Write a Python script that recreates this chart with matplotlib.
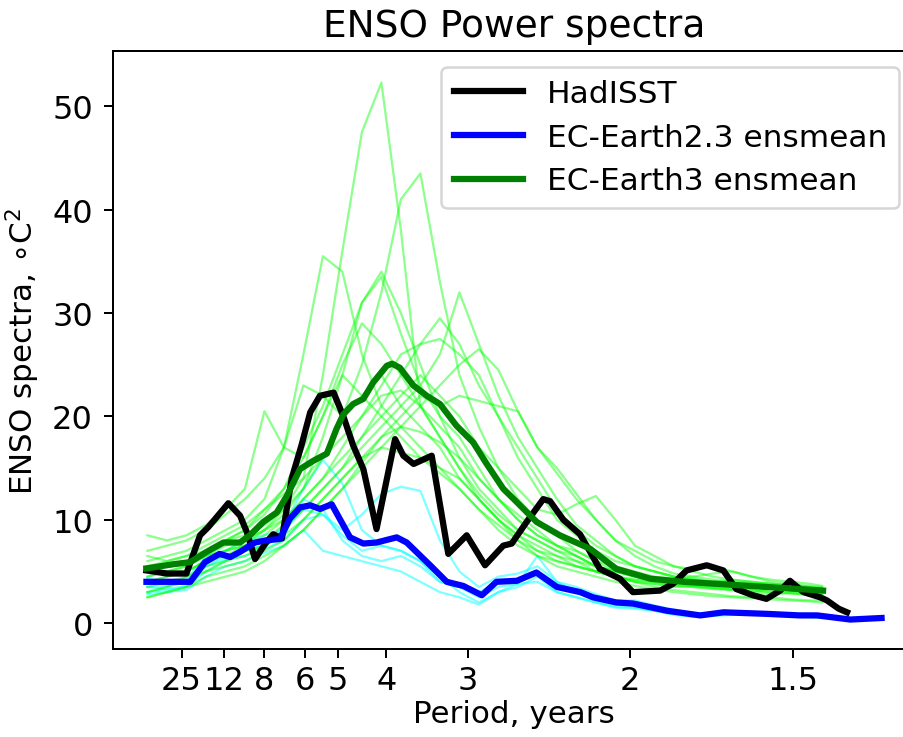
import matplotlib
matplotlib.use("Agg")
import matplotlib.pyplot as plt
import numpy as np

# ---------------- data (frequency in cycles/year) ----------------
period_ticks = [25, 12, 8, 6, 5, 4, 3, 2, 1.5]
period_tick_labels = ["25", "12", "8", "6", "5", "4", "3", "2", "1.5"]

hadisst_freq = [0.004, 0.025, 0.045, 0.059, 0.0675, 0.088, 0.100, 0.107, 0.1154, 0.126,
                0.134, 0.143, 0.153, 0.163, 0.172, 0.182, 0.196, 0.206, 0.216, 0.2265,
                0.240, 0.259, 0.2675, 0.278, 0.2966, 0.3136, 0.3325, 0.3513, 0.370, 0.3787,
                0.394, 0.411, 0.418, 0.4316, 0.4487, 0.459, 0.469, 0.4897, 0.503, 0.531,
                0.544, 0.558, 0.5787, 0.5957, 0.609, 0.626, 0.640, 0.654, 0.664, 0.678,
                0.695, 0.702, 0.714, 0.7226]
hadisst_spec = [5.1, 4.8, 4.8, 8.5, 9.3, 11.6, 10.4, 8.8, 6.2, 7.7,
                8.6, 8.2, 14.0, 17.2, 20.4, 22.0, 22.3, 20.0, 17.2, 14.9,
                9.1, 17.8, 16.2, 15.4, 16.2, 6.7, 8.5, 5.6, 7.5, 7.7,
                9.8, 12.0, 11.8, 10.0, 8.6, 6.9, 5.25, 4.3, 3.0, 3.15,
                3.8, 5.1, 5.6, 5.1, 3.3, 2.7, 2.35, 3.15, 4.1, 3.0,
                2.5, 2.2, 1.4, 1.05]

ec23_freq = [0.004, 0.049, 0.064, 0.079, 0.090, 0.100, 0.1154, 0.126, 0.141, 0.151,
             0.1615, 0.172, 0.182, 0.194, 0.2128, 0.2265, 0.240, 0.2607, 0.271, 0.295,
             0.312, 0.329, 0.348, 0.363, 0.384, 0.404, 0.425, 0.449, 0.462, 0.486,
             0.503, 0.538, 0.572, 0.596, 0.640, 0.674, 0.692, 0.726, 0.758]
ec23_mean = [4.0, 4.0, 5.9, 6.7, 6.4, 6.9, 7.8, 8.0, 8.15, 10.1,
             11.2, 11.4, 11.05, 11.5, 8.3, 7.7, 7.8, 8.3, 7.8, 5.6,
             4.0, 3.6, 2.7, 4.0, 4.1, 4.9, 3.5, 3.0, 2.5, 2.0,
             1.9, 1.2, 0.75, 1.05, 0.9, 0.75, 0.75, 0.35, 0.5]

ec3_freq = [0.004, 0.0316, 0.0487, 0.0658, 0.083, 0.100, 0.110, 0.124, 0.1376, 0.148,
            0.1615, 0.175, 0.189, 0.199, 0.206, 0.216, 0.2265, 0.2367, 0.2505, 0.256,
            0.264, 0.2777, 0.2915, 0.305, 0.322, 0.339, 0.353, 0.370, 0.384, 0.404,
            0.428, 0.459, 0.486, 0.521, 0.555, 0.623, 0.698]
ec3_mean = [5.3, 5.7, 5.9, 6.9, 7.8, 7.8, 8.5, 9.8, 10.7, 12.3,
            14.9, 15.7, 16.4, 18.8, 20.2, 21.2, 21.7, 23.3, 24.9, 25.1,
            24.7, 23.0, 22.0, 21.2, 19.1, 17.5, 15.4, 13.0, 11.7, 9.8,
            8.5, 7.2, 5.25, 4.3, 4.0, 3.6, 3.15]

# EC-Earth3 members
ec3_member_freq = [0.005, 0.025, 0.045, 0.065, 0.085, 0.105, 0.125, 0.145, 0.165, 0.185,
                   0.205, 0.225, 0.245, 0.265, 0.285, 0.305, 0.325, 0.345, 0.365, 0.385,
                   0.405, 0.425, 0.445, 0.465, 0.485, 0.505, 0.525, 0.545, 0.565, 0.585,
                   0.605, 0.625, 0.645, 0.665, 0.685, 0.697]
ec3_m01 = [4.5, 5.0, 5.5, 6.5, 7.0, 7.5, 9.0, 11.0, 14.0, 24.0, 36.0, 47.5, 52.3, 38.0, 21.0, 18.0, 15.0, 12.0, 10.0, 8.5, 7.0, 6.0, 5.5, 5.0, 4.5, 4.0, 3.8, 3.5, 3.6, 3.4, 3.2, 3.0, 3.3, 3.1, 2.9, 2.8]
ec3_m02 = [5.0, 5.5, 6.0, 7.0, 8.0, 8.5, 9.5, 11.0, 13.0, 16.0, 20.0, 25.0, 32.0, 41.0, 43.5, 33.0, 24.0, 19.0, 15.0, 12.0, 10.0, 8.5, 7.0, 6.0, 5.0, 4.5, 4.2, 4.0, 3.8, 3.6, 3.5, 3.6, 3.4, 3.3, 3.2, 3.0]
ec3_m03 = [6.0, 6.5, 7.0, 8.0, 9.0, 10.0, 12.0, 17.0, 26.0, 35.5, 34.0, 26.0, 21.0, 19.0, 17.0, 15.0, 13.0, 11.0, 9.5, 8.0, 7.0, 6.5, 5.5, 5.0, 4.5, 4.0, 3.8, 3.6, 3.5, 3.3, 3.2, 3.0, 2.8, 2.9, 2.7, 2.6]
ec3_m04 = [4.0, 4.5, 5.0, 6.0, 7.0, 7.5, 8.0, 9.5, 11.0, 13.0, 15.0, 17.0, 19.0, 21.0, 23.0, 26.0, 32.0, 27.0, 22.0, 18.0, 15.0, 12.0, 9.5, 8.0, 6.5, 5.5, 5.0, 4.5, 4.2, 4.0, 3.8, 3.5, 3.4, 3.3, 3.2, 3.1]
ec3_m05 = [5.5, 6.0, 6.5, 7.0, 8.0, 9.0, 10.5, 13.0, 17.0, 21.0, 26.0, 31.0, 34.0, 30.0, 25.0, 20.0, 16.0, 13.0, 11.0, 9.0, 8.0, 7.0, 6.5, 5.5, 5.0, 4.5, 4.2, 4.0, 3.9, 3.7, 3.6, 3.5, 3.3, 3.2, 3.0, 3.0]
ec3_m06 = [8.5, 8.0, 8.5, 9.5, 11.0, 13.0, 20.5, 17.0, 23.0, 22.0, 20.0, 22.0, 24.0, 21.0, 19.0, 17.0, 14.0, 12.0, 10.0, 8.5, 7.5, 6.5, 6.0, 5.0, 4.5, 4.2, 4.0, 3.8, 4.0, 3.8, 3.6, 3.4, 3.5, 3.2, 3.0, 2.9]
ec3_m07 = [3.0, 3.5, 4.5, 5.5, 6.0, 7.0, 7.5, 9.0, 11.0, 13.0, 15.0, 18.0, 21.0, 24.0, 27.0, 27.5, 26.0, 24.0, 20.0, 17.0, 14.0, 11.0, 9.0, 7.5, 6.5, 5.5, 5.0, 4.5, 4.3, 4.0, 3.9, 3.8, 3.6, 3.5, 3.4, 3.3]
ec3_m08 = [2.5, 3.0, 3.5, 4.5, 5.0, 5.5, 6.5, 7.5, 9.0, 11.0, 13.0, 15.0, 17.0, 19.0, 21.0, 23.0, 25.0, 26.5, 24.5, 20.5, 17.0, 14.5, 12.0, 10.0, 8.0, 6.5, 5.5, 4.8, 4.5, 4.2, 4.0, 3.9, 3.8, 3.6, 3.5, 3.4]
ec3_m09 = [4.0, 4.5, 5.0, 6.0, 6.5, 7.5, 8.5, 10.0, 12.0, 14.0, 16.0, 18.0, 20.0, 22.0, 24.0, 22.0, 20.0, 17.0, 15.0, 13.0, 11.0, 10.5, 11.5, 12.3, 10.0, 7.5, 6.5, 5.5, 5.0, 4.5, 4.2, 4.0, 3.8, 3.6, 3.4, 3.3]
ec3_m10 = [5.0, 5.5, 6.0, 7.0, 8.0, 9.0, 11.0, 13.0, 16.0, 20.0, 25.0, 29.0, 27.0, 24.0, 21.0, 18.0, 15.0, 12.5, 10.5, 9.0, 8.0, 7.0, 6.0, 5.5, 5.0, 4.5, 4.0, 3.7, 3.5, 3.4, 3.3, 3.2, 3.0, 2.9, 2.8, 2.7]
ec3_m11 = [6.5, 6.0, 6.5, 7.5, 8.5, 9.5, 11.0, 12.5, 14.0, 16.0, 18.0, 20.0, 22.0, 22.5, 21.0, 19.0, 17.0, 14.0, 12.0, 10.0, 8.5, 7.5, 7.0, 6.0, 5.5, 5.0, 4.5, 4.3, 4.5, 4.8, 5.0, 4.5, 4.0, 3.8, 3.5, 3.4]
ec3_m12 = [3.5, 4.0, 4.5, 5.0, 5.5, 6.0, 7.0, 8.0, 10.0, 12.0, 14.0, 16.0, 17.0, 16.5, 16.0, 15.0, 14.0, 12.0, 10.0, 8.0, 6.5, 5.5, 5.0, 4.5, 4.0, 3.6, 3.3, 3.0, 2.8, 2.6, 2.5, 2.4, 2.5, 2.3, 2.2, 2.2]
ec3_m13 = [5.0, 5.0, 5.5, 6.5, 7.5, 8.0, 9.0, 10.0, 12.0, 14.0, 17.0, 20.0, 23.0, 26.0, 27.0, 29.5, 27.0, 23.0, 20.0, 16.0, 13.0, 10.0, 8.5, 7.0, 6.0, 5.5, 5.0, 4.5, 4.2, 4.0, 4.2, 4.0, 3.8, 3.7, 3.6, 3.5]
ec3_m14 = [7.0, 7.5, 8.0, 9.0, 10.5, 12.0, 14.0, 17.0, 16.0, 20.0, 24.0, 22.0, 20.0, 18.0, 16.0, 14.5, 13.0, 11.0, 9.0, 7.5, 6.5, 6.0, 5.5, 5.0, 4.5, 4.2, 4.0, 3.8, 3.6, 3.5, 3.3, 3.2, 3.0, 2.9, 2.8, 2.7]
ec3_m15 = [4.5, 5.0, 5.0, 6.0, 7.0, 8.0, 9.0, 10.5, 13.0, 18.0, 24.0, 31.0, 33.5, 28.0, 23.0, 20.0, 18.0, 15.0, 12.0, 10.0, 8.5, 7.5, 6.5, 5.5, 5.0, 4.7, 4.4, 4.2, 4.0, 3.8, 3.7, 3.5, 3.4, 3.2, 3.1, 3.0]
ec3_m16 = [3.0, 3.5, 4.0, 5.0, 6.0, 6.5, 7.5, 8.5, 10.0, 12.0, 14.0, 16.0, 18.0, 20.0, 22.0, 21.0, 22.0, 21.5, 21.0, 20.5, 17.0, 15.0, 12.5, 10.0, 8.0, 7.0, 6.0, 5.5, 5.2, 5.5, 5.0, 4.5, 4.2, 4.0, 3.8, 3.6]
ec3_m17 = [2.5, 3.0, 3.5, 4.0, 4.5, 5.0, 6.0, 7.5, 9.0, 11.0, 13.0, 15.5, 18.0, 19.0, 18.5, 17.5, 16.0, 14.0, 12.0, 10.5, 9.0, 7.5, 6.5, 5.5, 4.5, 4.0, 3.5, 3.2, 3.0, 2.8, 2.6, 2.5, 2.3, 2.2, 2.1, 2.0]

# EC-Earth2.3 members
ec23_member_freq = [0.005, 0.025, 0.045, 0.065, 0.085, 0.105, 0.125, 0.145, 0.165, 0.185,
                    0.205, 0.225, 0.245, 0.265, 0.285, 0.305, 0.325, 0.345, 0.365, 0.385,
                    0.405, 0.425, 0.445, 0.465, 0.485, 0.505, 0.525, 0.545, 0.565, 0.585,
                    0.605, 0.625, 0.645, 0.665, 0.685, 0.705, 0.725, 0.745, 0.757]
ec23_m1 = [3.0, 3.2, 3.5, 5.0, 6.0, 7.0, 7.5, 9.5, 13.0, 15.8, 13.5, 9.0, 7.5, 7.0, 6.0, 4.5, 3.0, 2.0, 3.0, 3.5, 4.5, 3.0, 2.5, 2.0, 1.6, 1.5, 1.2, 0.9, 0.7, 0.8, 0.9, 0.8, 0.8, 0.7, 0.6, 0.5, 0.4, 0.4, 0.4]
ec23_m2 = [3.5, 3.6, 4.0, 5.5, 6.2, 6.5, 7.2, 8.0, 10.0, 10.5, 9.0, 10.5, 12.5, 13.2, 12.8, 8.0, 5.0, 3.5, 4.5, 4.8, 5.5, 4.0, 3.5, 2.8, 2.2, 2.0, 1.6, 1.2, 0.9, 1.0, 1.1, 1.0, 0.9, 0.8, 0.8, 0.6, 0.4, 0.5, 0.6]
ec23_m3 = [2.8, 3.0, 3.2, 4.5, 5.5, 6.0, 6.8, 7.5, 9.0, 7.0, 6.5, 6.0, 5.5, 5.0, 4.0, 3.0, 2.5, 1.8, 3.0, 3.8, 4.0, 3.0, 2.5, 2.0, 1.5, 1.4, 1.2, 0.8, 0.6, 0.7, 0.8, 0.8, 0.8, 0.7, 0.6, 0.5, 0.3, 0.4, 0.4]
ec23_m4 = [4.3, 4.0, 4.2, 6.5, 7.0, 8.0, 8.5, 9.0, 11.0, 10.5, 8.5, 7.0, 7.5, 7.0, 6.0, 4.0, 3.5, 3.0, 4.0, 4.0, 5.0, 3.8, 3.2, 2.5, 2.2, 2.2, 1.7, 1.3, 0.9, 1.0, 1.1, 1.1, 1.0, 0.9, 0.9, 0.7, 0.5, 0.5, 0.6]
ec23_m5 = [3.5, 3.3, 3.6, 5.5, 6.5, 7.0, 7.5, 8.5, 12.0, 11.0, 8.0, 6.5, 6.0, 6.5, 5.5, 4.0, 3.5, 2.5, 3.5, 3.8, 6.5, 4.0, 3.0, 2.2, 1.8, 1.6, 1.3, 1.0, 0.8, 0.9, 1.0, 0.9, 0.8, 0.8, 0.7, 0.6, 0.4, 0.4, 0.5]

ec3_members = [ec3_m01, ec3_m02, ec3_m03, ec3_m04, ec3_m05, ec3_m06, ec3_m07, ec3_m08, ec3_m09,
               ec3_m10, ec3_m11, ec3_m12, ec3_m13, ec3_m14, ec3_m15, ec3_m16, ec3_m17]
ec23_members = [ec23_m1, ec23_m2, ec23_m3, ec23_m4, ec23_m5]

# ---------------- plot ----------------
DPI = 180
fig = plt.figure(figsize=(903 / DPI, 738 / DPI), dpi=DPI)
ax = fig.add_axes([113 / 903, 88 / 738, 802 / 903, 598 / 738])

for m in ec23_members:
    ax.plot(ec23_member_freq, m, color="cyan", alpha=0.5, lw=0.9)
for m in ec3_members:
    ax.plot(ec3_member_freq, m, color="lime", alpha=0.45, lw=0.9)

l1, = ax.plot(hadisst_freq, hadisst_spec, color="black", lw=2.5, label="HadISST")
l2, = ax.plot(ec23_freq, ec23_mean, color="blue", lw=2.5, label="EC-Earth2.3 ensmean")
l3, = ax.plot(ec3_freq, ec3_mean, color="green", lw=2.5, label="EC-Earth3 ensmean")

ax.set_xlim(-0.0303, 0.7923)
ax.set_ylim(-2.5, 55.35)
ax.set_xticks([1.0 / p for p in period_ticks])
ax.set_xticklabels(period_tick_labels)
ax.set_yticks([0, 10, 20, 30, 40, 50])
ax.tick_params(axis="y", labelsize=12.8, pad=4.5)
ax.tick_params(axis="x", labelsize=12.8, pad=3.0)

ax.set_title("ENSO Power spectra", fontsize=15)
ax.set_xlabel("Period, years", fontsize=12.4, labelpad=1.0)
ax.set_ylabel("ENSO spectra, $\\circ$C$^2$", fontsize=12.4)

ax.legend(handles=[l1, l2, l3], loc="upper right", fontsize=12.5,
          handlelength=2.2, handletextpad=0.77, labelspacing=0.47)

fig.savefig("out.png", dpi=DPI)
